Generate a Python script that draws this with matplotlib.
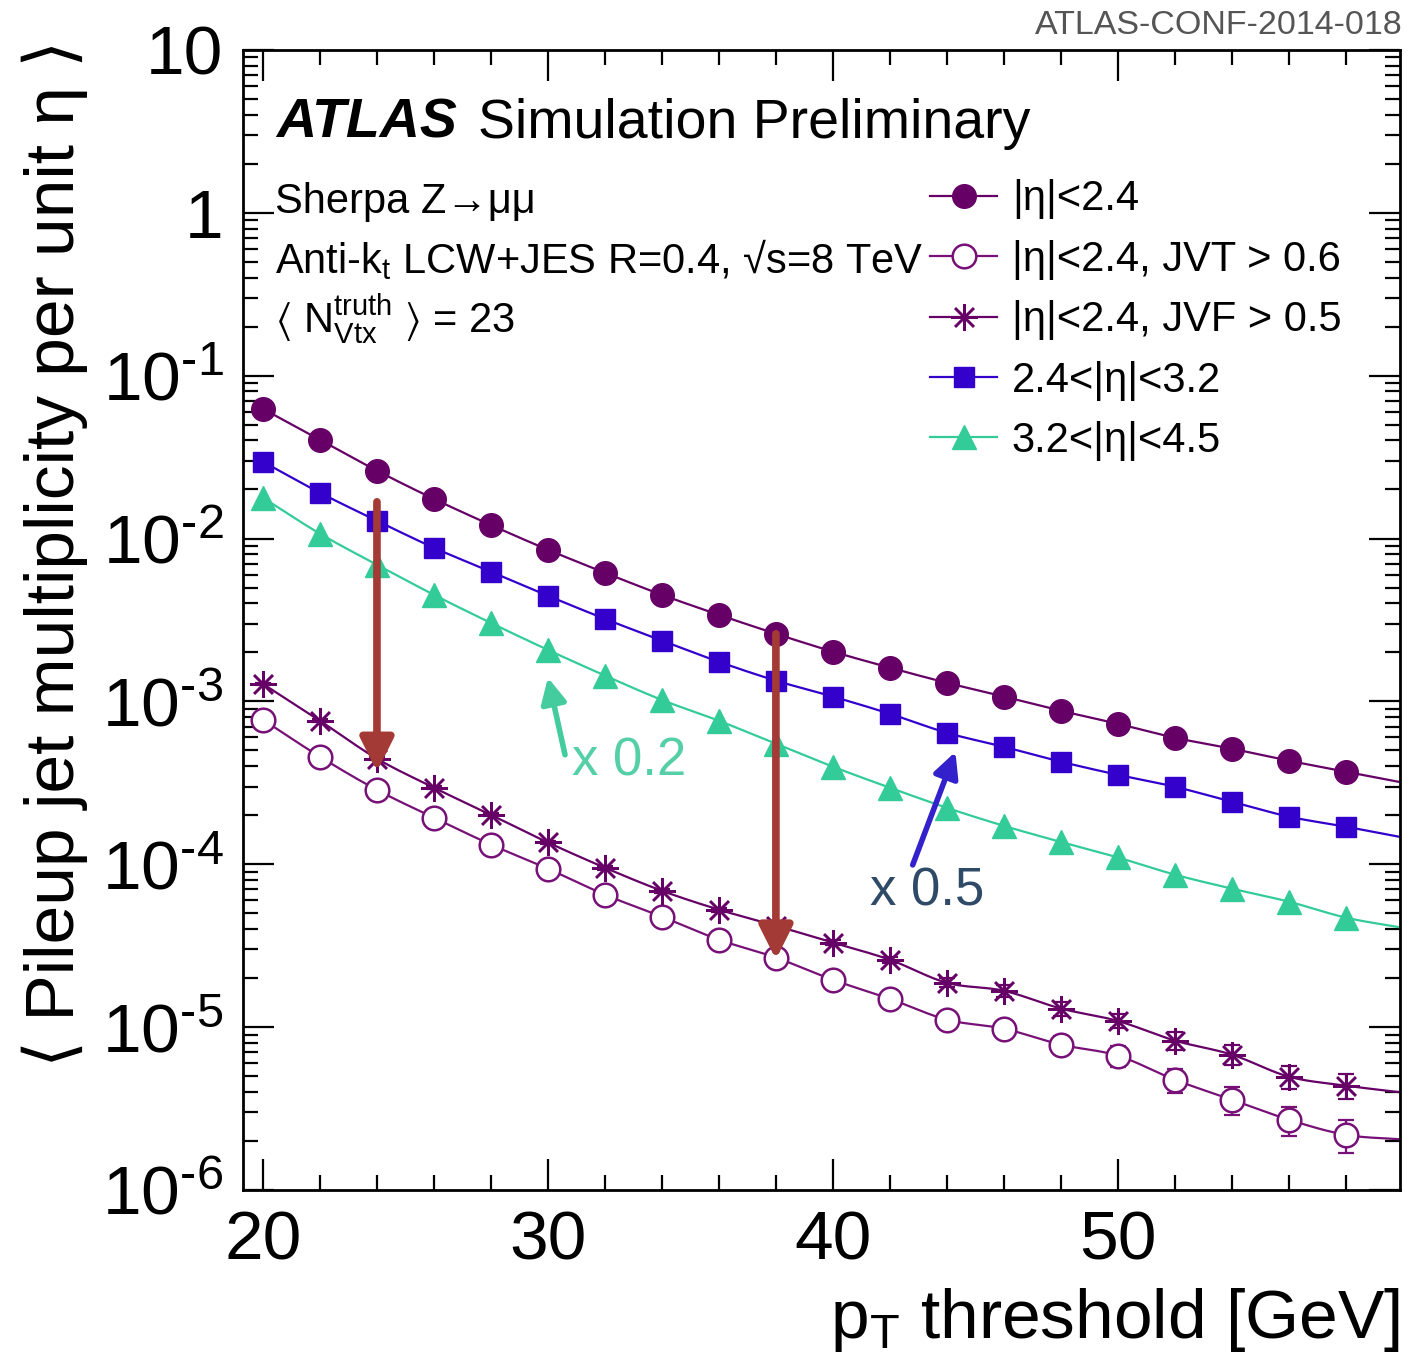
import numpy as np
import matplotlib
matplotlib.use('Agg')
import matplotlib.pyplot as plt
from matplotlib.ticker import MultipleLocator, FixedLocator, NullFormatter, FuncFormatter

plt.rcParams['font.family'] = ['Liberation Sans', 'DejaVu Sans']
plt.rcParams['mathtext.fontset'] = 'custom'
plt.rcParams['mathtext.rm'] = 'Liberation Sans'
plt.rcParams['mathtext.it'] = 'Liberation Sans:italic'
plt.rcParams['mathtext.bf'] = 'Liberation Sans:bold'
plt.rcParams['mathtext.fallback'] = 'stixsans'

# pT thresholds [GeV]; the last one sits on the frame edge (curve only)
pt = [20, 22, 24, 26, 28, 30, 32, 34, 36, 38, 40, 42, 44, 46, 48, 50, 52, 54, 56, 58, 60]

# pileup jet multiplicity per unit eta
central = [0.0625, 0.0404, 0.0261, 0.0175, 0.0121, 0.00853, 0.00616, 0.00451, 0.00340, 0.00260,
           0.00202, 0.00161, 0.00130, 0.00107, 0.000875, 0.000728, 0.000598, 0.000512, 0.000432,
           0.000370, 0.000317]
central_jvt = [7.71e-4, 4.57e-4, 2.86e-4, 1.93e-4, 1.32e-4, 9.38e-5, 6.50e-5, 4.76e-5, 3.44e-5, 2.67e-5,
               1.95e-5, 1.49e-5, 1.11e-5, 9.77e-6, 7.80e-6, 6.67e-6, 4.75e-6, 3.58e-6, 2.70e-6,
               2.18e-6, 2.04e-6]
central_jvf = [1.28e-3, 7.60e-4, 4.45e-4, 2.95e-4, 2.01e-4, 1.36e-4, 9.52e-5, 6.87e-5, 5.26e-5, 4.19e-5,
               3.30e-5, 2.59e-5, 1.87e-5, 1.67e-5, 1.30e-5, 1.09e-5, 8.26e-6, 6.77e-6, 4.96e-6,
               4.37e-6, 3.96e-6]
fwd_24_32 = [0.0296, 0.0191, 0.01285, 0.00877, 0.00625, 0.00445, 0.00321, 0.00236, 0.00175, 0.00134,
             0.00107, 0.000839, 0.000641, 0.000526, 0.000426, 0.000354, 0.000299, 0.000242, 0.000196,
             0.000170, 0.000146]
fwd_32_45 = [0.0178, 0.0107, 0.00690, 0.00451, 0.00303, 0.00207, 0.00144, 0.00102, 7.60e-4, 5.49e-4,
             3.97e-4, 2.95e-4, 2.22e-4, 1.72e-4, 1.37e-4, 1.10e-4, 8.63e-5, 7.08e-5, 5.89e-5,
             4.70e-5, 4.07e-5]

# statistical uncertainties (20..58 GeV)
err_jvt = [1.5e-5, 9e-6, 6e-6, 4e-6, 3e-6, 2.2e-6, 1.6e-6, 1.3e-6, 1.0e-6, 0.9e-6,
           0.8e-6, 0.8e-6, 0.8e-6, 0.8e-6, 1.0e-6, 0.95e-6, 0.8e-6, 0.7e-6, 0.55e-6, 0.5e-6]
err_jvf = [2.5e-5, 1.5e-5, 9e-6, 6e-6, 4.5e-6, 3.2e-6, 2.4e-6, 1.9e-6, 1.6e-6, 1.4e-6,
           1.3e-6, 1.2e-6, 1.2e-6, 1.3e-6, 1.3e-6, 1.1e-6, 1.05e-6, 0.95e-6, 0.8e-6, 0.75e-6]

labels = ['|η|<2.4', '|η|<2.4, JVT > 0.6', '|η|<2.4, JVF > 0.5', '2.4<|η|<3.2', '3.2<|η|<4.5']

purple = '#660066'
purple_open = '#771177'
blue = '#3300cc'
green = '#33cc99'


def smooth(x, y, n=24):
    # cubic hermite through the points in log space
    x = np.asarray(x, float)
    ly = np.log10(y)
    m = np.gradient(ly, x)
    xs, ys = [], []
    t = np.linspace(0, 1, n, endpoint=False)
    for i in range(len(x) - 1):
        h = x[i + 1] - x[i]
        h00 = 2 * t**3 - 3 * t**2 + 1
        h10 = t**3 - 2 * t**2 + t
        h01 = -2 * t**3 + 3 * t**2
        h11 = t**3 - t**2
        ys.append(h00 * ly[i] + h10 * h * m[i] + h01 * ly[i + 1] + h11 * h * m[i + 1])
        xs.append(x[i] + t * h)
    xs.append([x[-1]])
    ys.append([ly[-1]])
    return np.concatenate(xs), 10**np.concatenate(ys)


fig = plt.figure(figsize=(14.08, 13.61), dpi=100)
ax = fig.add_axes([0.1726, 0.1257, 0.8217, 0.8376])

x_min, x_max = 19.3, 59.9
pts = np.array(pt)
inside = pts < x_max

series = [
    (central, dict(marker='o', ms=17, mfc=purple, mec=purple), purple, None),
    (central_jvt, dict(marker='o', ms=17, mfc='white', mec=purple_open, mew=1.8), purple_open, err_jvt),
    (central_jvf, dict(marker=(8, 2, 0), ms=19, mec=purple, mew=1.8), purple, err_jvf),
    (fwd_24_32, dict(marker='s', ms=15, mfc=blue, mec=blue), blue, None),
    (fwd_32_45, dict(marker='^', ms=17, mfc=green, mec=green), green, None),
]

handles = []
for vals, mstyle, col, err in series:
    vals = np.array(vals)
    sx, sy = smooth(pts, vals)
    line, = ax.plot(sx, sy, color=col, lw=1.6, zorder=2)
    if err is not None:
        ax.errorbar(pts[inside], vals[inside], yerr=err, fmt='none', ecolor=col,
                    elinewidth=1.6, capsize=6, capthick=1.6, zorder=2)
    mk, = ax.plot(pts[inside], vals[inside], ls='none', zorder=3, **mstyle)
    handles.append((line, mk))

ax.set_xlim(x_min, x_max)
ax.set_yscale('log')
ax.set_ylim(1e-6, 10)

decades = 10.0 ** np.arange(-6, 2)
ax.xaxis.set_major_locator(MultipleLocator(10))
ax.xaxis.set_minor_locator(MultipleLocator(2))
ax.yaxis.set_major_locator(FixedLocator(decades))
ax.yaxis.set_minor_locator(FixedLocator(np.outer(decades[:-1], np.arange(2, 10)).ravel()))
ax.yaxis.set_minor_formatter(NullFormatter())


def fmt_pow(v, pos):
    e = int(round(np.log10(v)))
    if e == 1:
        return '10'
    if e == 0:
        return '1'
    return r'$10^{\text{-}%d}$' % abs(e)


ax.yaxis.set_major_formatter(FuncFormatter(fmt_pow))
ax.tick_params(which='both', direction='in', top=True, right=True, width=1.6, labelsize=50)
ax.tick_params(which='major', length=22, pad=14)
ax.tick_params(which='minor', length=11)
for s in ax.spines.values():
    s.set_linewidth(2)

# axis titles
fig.text(1400 / 1408, 1 - 1338 / 1361, r'p$_{\rm T}$ threshold [GeV]', fontsize=50,
         ha='right', va='baseline')
fig.text(55 / 1408, 1 - 40 / 1361, '⟨ Pileup jet multiplicity per unit η ⟩', fontsize=50,
         rotation=90, ha='center', va='top')
fig.text(1403 / 1408, 1 - 10 / 1361, 'ATLAS-CONF-2014-018', fontsize=24.5, color='#555555',
         ha='right', va='top')

# labels inside the frame
ax.text(0.029, 0.923, 'ATLAS', transform=ax.transAxes, fontsize=40, fontweight='bold',
        fontstyle='italic', va='baseline')
ax.text(0.203, 0.923, 'Simulation Preliminary', transform=ax.transAxes, fontsize=40, va='baseline')
ax.text(0.028, 0.857, 'Sherpa Z→μμ', transform=ax.transAxes, fontsize=30, va='baseline')
ax.text(0.028, 0.804, r'Anti-k$_{\rm t}$ LCW+JES R=0.4, √s=8 TeV',
        transform=ax.transAxes, fontsize=30, va='baseline')
ax.text(0.028, 0.752, r'$\langle$ N$^{\rm truth}_{\rm Vtx}$ $\rangle$ = 23', transform=ax.transAxes,
        fontsize=30, va='baseline')

ax.legend(handles, labels, loc='upper left', bbox_to_anchor=(0.594, 0.8865), frameon=False,
          fontsize=30, handlelength=1.6, handletextpad=0.36, labelspacing=0.49,
          borderpad=0, borderaxespad=0, numpoints=1)

# arrows showing the effect of the track-based cuts
red = '#a33a35'
for xa, y0, y1 in [(24, 0.0168, 3.7e-4), (38, 2.6e-3, 2.6e-5)]:
    ax.annotate('', xy=(xa, y1), xytext=(xa, y0),
                arrowprops=dict(arrowstyle='-|>', color=red, lw=5.5, mutation_scale=50,
                                shrinkA=0, shrinkB=0, capstyle='round'), zorder=4)

ax.annotate('', xy=(30.0, 1.4e-3), xytext=(30.6, 4.7e-4),
            arrowprops=dict(arrowstyle='-|>', color='#44cc9e', lw=4, mutation_scale=38,
                            shrinkA=0, shrinkB=0), zorder=4)
ax.text(30.85, 4.3e-4, 'x 0.2', fontsize=38, color='#55cfa6', va='center')

ax.annotate('', xy=(44.3, 4.9e-4), xytext=(42.8, 9.9e-5),
            arrowprops=dict(arrowstyle='-|>', color='#3322cc', lw=4, mutation_scale=38,
                            shrinkA=0, shrinkB=0), zorder=4)
ax.text(41.3, 6.8e-5, 'x 0.5', fontsize=38, color='#2e4a66', va='center')

fig.savefig('out.png', dpi=100)
